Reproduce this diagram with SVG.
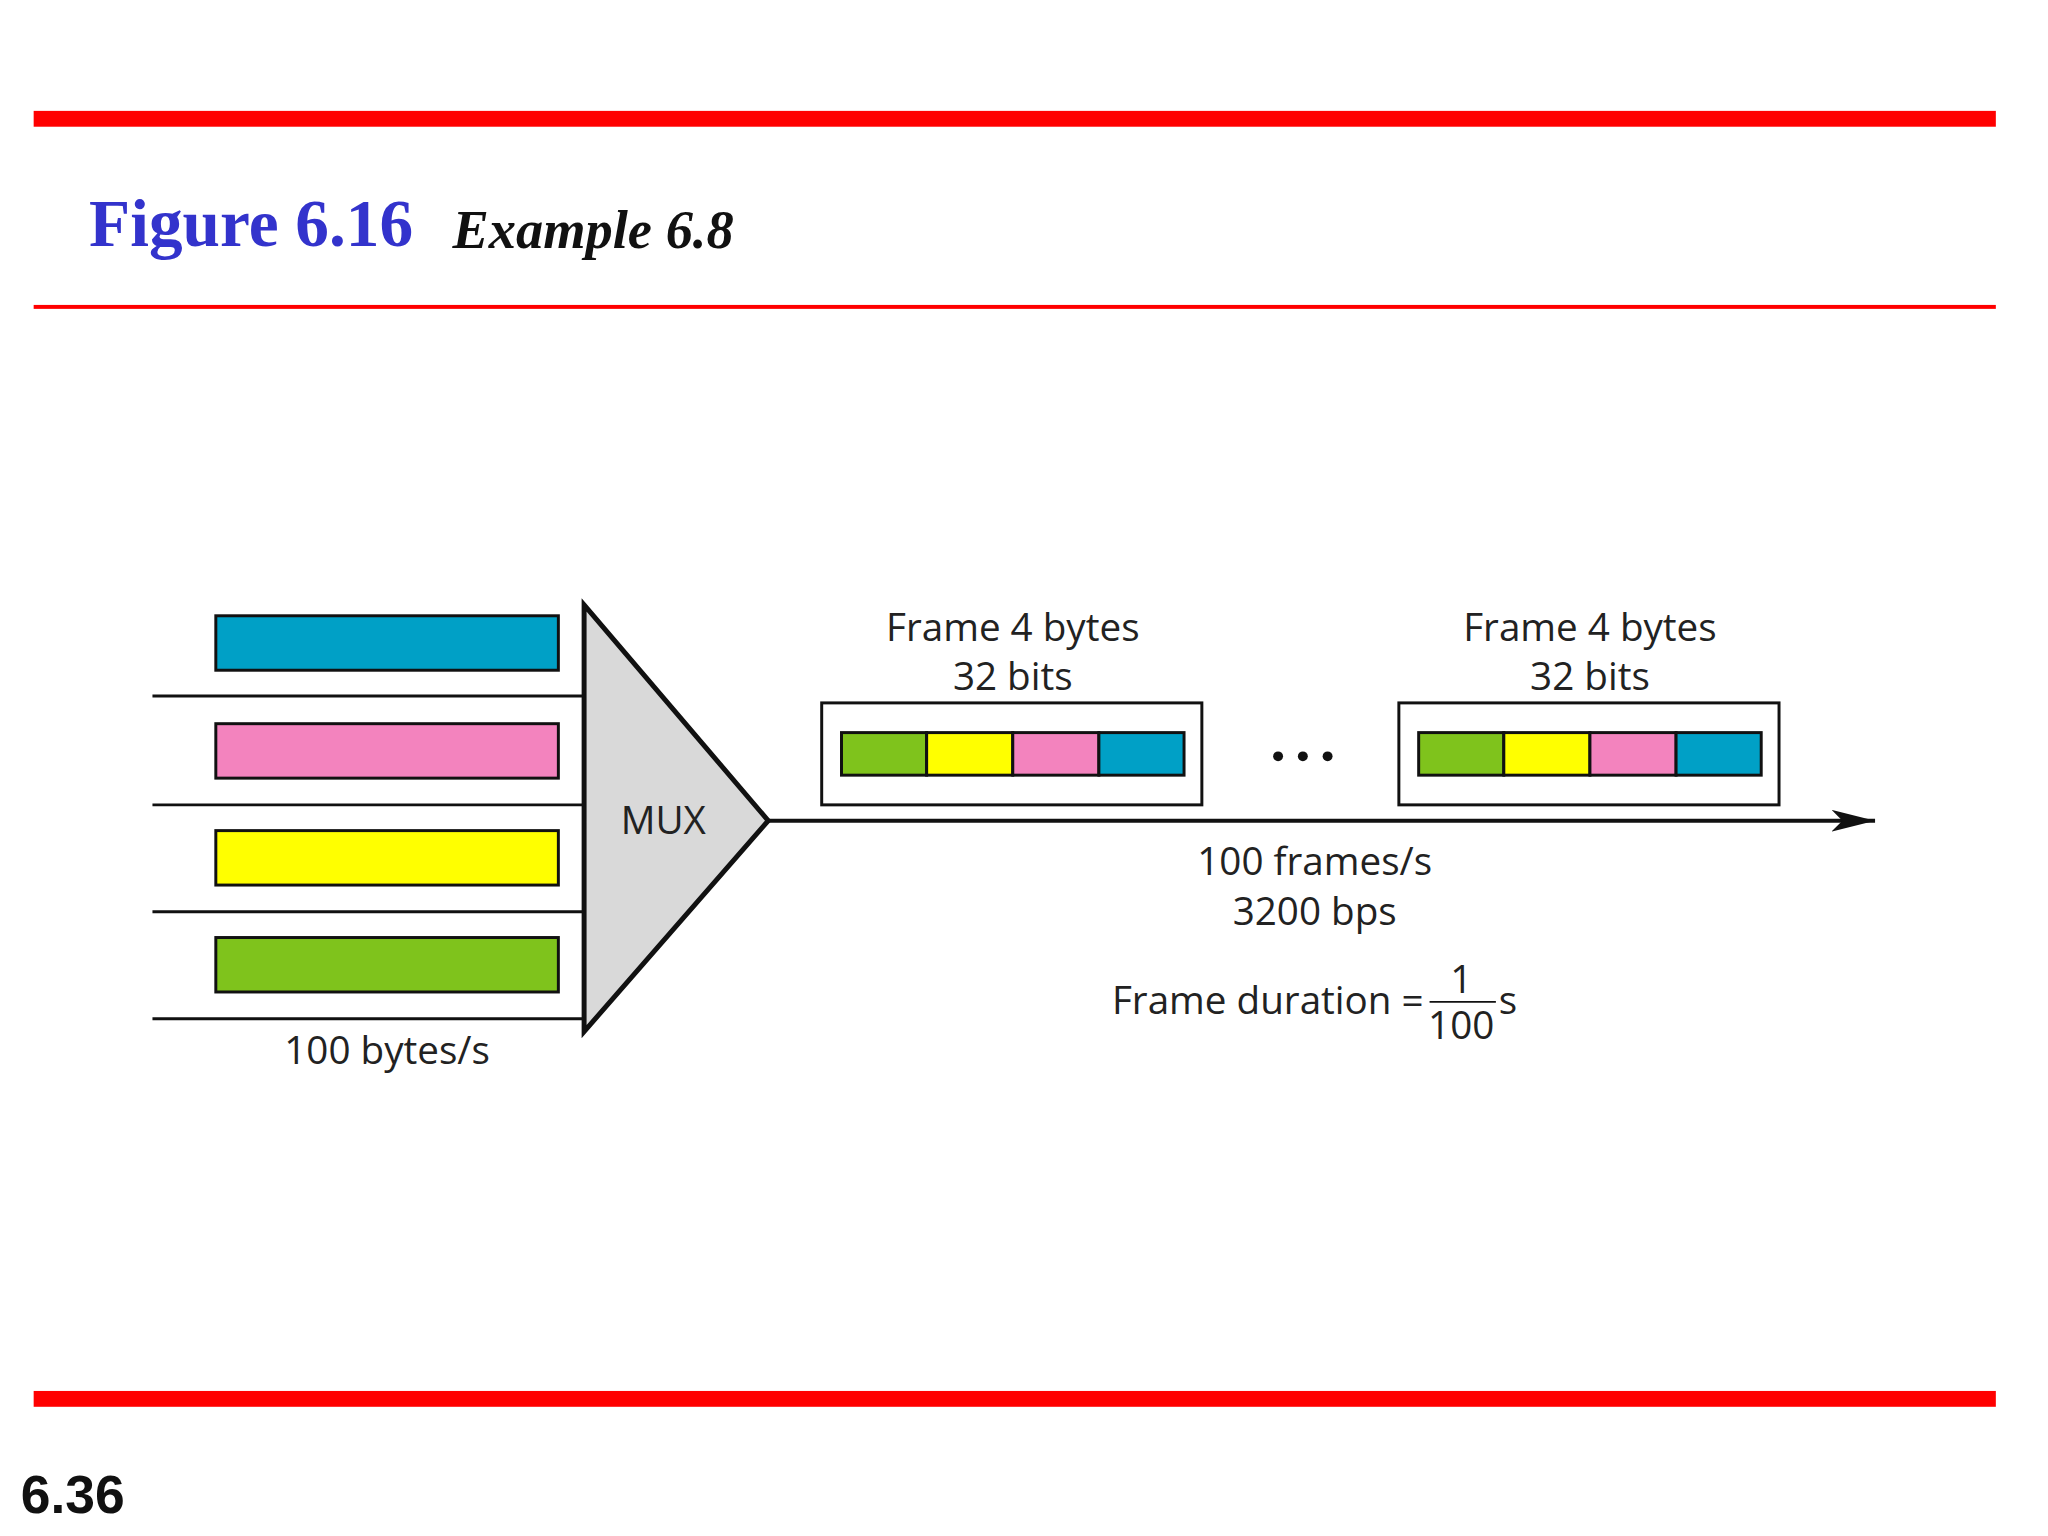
<svg xmlns="http://www.w3.org/2000/svg" width="2048" height="1536" viewBox="0 0 2048 1536">
<style>
.t{font-family:"Open Sans","Noto Sans",sans-serif;font-size:39px;fill:#222;text-anchor:middle}
.b{stroke:#111;stroke-width:3}
.c{stroke:#111;stroke-width:3}
</style>
<defs>
<marker id="arr" viewBox="0 0 40 20" refX="40" refY="10" markerWidth="44" markerHeight="22" orient="auto" markerUnits="userSpaceOnUse"><path d="M0,0 L40,10 L0,20 L10,10 Z" fill="#111"/></marker></defs>
<rect width="2048" height="1536" fill="#fff"/>
<g transform="scale(0.99)">
<rect x="34" y="112" width="1982" height="16" fill="#ff0000"/>
<rect x="34" y="308" width="1982" height="4" fill="#ff0000"/>
<rect x="34" y="1405" width="1982" height="16" fill="#ff0000"/>
<text x="90" y="249" font-family="Liberation Serif,serif" font-weight="bold" font-size="68" fill="#3333cc">Figure 6.16</text>
<text x="457" y="251" font-family="Liberation Serif,serif" font-weight="bold" font-style="italic" font-size="55" fill="#111">Example 6.8</text>
<text x="21" y="1528" font-family="Liberation Sans,sans-serif" font-weight="bold" font-size="54" fill="#111">6.36</text>
<g id="inputs">
<rect x="218" y="622" width="346" height="55" fill="#00a0c6" class="b"/>
<rect x="218" y="731" width="346" height="55" fill="#f383be" class="b"/>
<rect x="218" y="839" width="346" height="55" fill="#ffff00" class="b"/>
<rect x="218" y="947" width="346" height="55" fill="#7fc31c" class="b"/>
<text class="t" x="391" y="1075">100 bytes/s</text>
</g>
<g id="mux">
<polygon points="590,611 776,829 590,1042" fill="#d9d9d9" stroke="#111" stroke-width="5"/>
<text class="t" x="670" y="842">MUX</text>
</g>
<g id="frame1">
<rect x="830" y="710" width="384" height="103" fill="#fff" class="b"/>
<rect x="850" y="740" width="86" height="43" fill="#7fc31c" class="b"/>
<rect x="936" y="740" width="87" height="43" fill="#ffff00" class="b"/>
<rect x="1023" y="740" width="87" height="43" fill="#f383be" class="b"/>
<rect x="1110" y="740" width="86" height="43" fill="#00a0c6" class="b"/>
<text class="t" x="1023" y="647">Frame 4 bytes</text>
<text class="t" x="1023" y="697">32 bits</text>
</g>
<g id="frame2">
<rect x="1413" y="710" width="384" height="103" fill="#fff" class="b"/>
<rect x="1433" y="740" width="86" height="43" fill="#7fc31c" class="b"/>
<rect x="1519" y="740" width="87" height="43" fill="#ffff00" class="b"/>
<rect x="1606" y="740" width="87" height="43" fill="#f383be" class="b"/>
<rect x="1693" y="740" width="86" height="43" fill="#00a0c6" class="b"/>
<text class="t" x="1606" y="647">Frame 4 bytes</text>
<text class="t" x="1606" y="697">32 bits</text>
</g>
<g id="dots" fill="#111"><circle cx="1291" cy="764" r="5"/><circle cx="1316" cy="764" r="5"/><circle cx="1341" cy="764" r="5"/></g>
<g id="connectors" fill="none">
<path class="c" d="M154,703H590M154,813H590M154,921H590M154,1029H590" stroke-width="4"/>
<path d="M776,829H1894" stroke="#111" stroke-width="4" marker-end="url(#arr)"/>
</g>
<g id="labels">
<text class="t" x="1328" y="884">100 frames/s</text>
<text class="t" x="1328" y="934">3200 bps</text>
<text class="t" x="1438" y="1024" style="text-anchor:end">Frame duration =</text>
<line x1="1444" y1="1012" x2="1511" y2="1012" stroke="#111" stroke-width="2"/>
<text class="t" x="1476" y="1003">1</text>
<text class="t" x="1476" y="1050">100</text>
<text class="t" x="1514" y="1024" style="text-anchor:start">s</text>
</g>
</g>
</svg>
